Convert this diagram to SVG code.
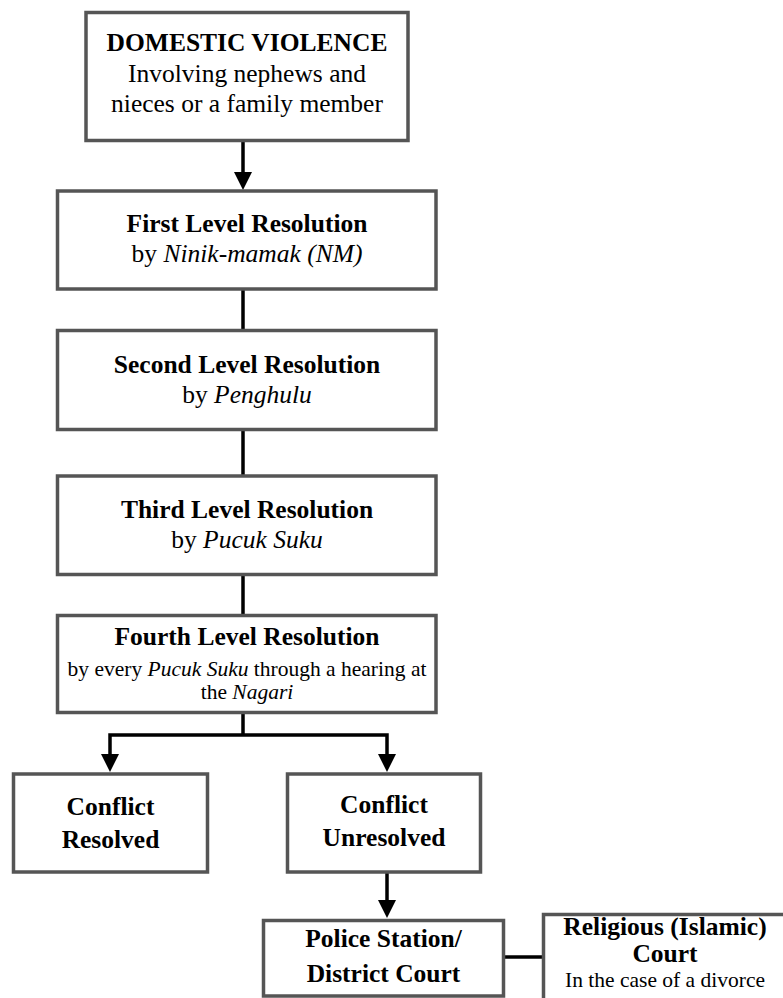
<svg xmlns="http://www.w3.org/2000/svg" width="783" height="998" viewBox="0 0 783 998">
<defs>
<style>
.box{fill:#fff;stroke:#555;stroke-width:3.5}
.c{fill:none;stroke:#000;stroke-width:3.5}
.t{font-family:"Liberation Serif","Times New Roman",serif;text-anchor:middle;font-size:25.5px;fill:#000}
.b{font-weight:bold}
.s{font-size:21.5px}
.i{font-style:italic}
</style>
</defs>
<rect width="783" height="998" fill="#fff"/>
<g id="connectors">
<path class="c" d="M243,141 V173"/>
<polygon points="234,172 252,172 243,190"/>
<path class="c" d="M243,289 V330"/>
<path class="c" d="M243,430 V476"/>
<path class="c" d="M243,575 V615"/>
<path class="c" d="M243,713 V735 M110,735 H387 M110,733.3 V756 M387,733.3 V756"/>
<polygon points="101,754 119,754 110,772"/>
<polygon points="378,754 396,754 387,772"/>
<path class="c" d="M387,873 V901"/>
<polygon points="378,900 396,900 387,918"/>
<path class="c" d="M505,957 H542"/>
</g>
<g id="node-domestic">
<path class="box" d="M86,12.5 H408 V140.5 H86 Z"/>
<text class="t b" x="247" y="51">DOMESTIC VIOLENCE</text>
<text class="t" x="247" y="82">Involving nephews and</text>
<text class="t" x="247" y="112">nieces or a family member</text>
</g>
<g id="node-first">
<path class="box" d="M57.5,191 H436 V289 H57.5 Z"/>
<text class="t b" x="247" y="232">First Level Resolution</text>
<text class="t" x="247" y="262">by <tspan class="i">Ninik-mamak (NM)</tspan></text>
</g>
<g id="node-second">
<path class="box" d="M57.5,330.5 H436 V429.5 H57.5 Z"/>
<text class="t b" x="247" y="373">Second Level Resolution</text>
<text class="t" x="247" y="403">by <tspan class="i">Penghulu</tspan></text>
</g>
<g id="node-third">
<path class="box" d="M57.5,476 H436 V574.5 H57.5 Z"/>
<text class="t b" x="247" y="518">Third Level Resolution</text>
<text class="t" x="247" y="548">by <tspan class="i">Pucuk Suku</tspan></text>
</g>
<g id="node-fourth">
<path class="box" d="M57.5,615.5 H436 V712.5 H57.5 Z"/>
<text class="t b" x="247" y="645">Fourth Level Resolution</text>
<text class="t s" x="247" y="676">by every <tspan class="i">Pucuk Suku</tspan> through a hearing at</text>
<text class="t s" x="247" y="699">the <tspan class="i">Nagari</tspan></text>
</g>
<g id="node-resolved">
<path class="box" d="M13.5,774 H207.5 V872 H13.5 Z"/>
<text class="t b" x="110.5" y="815">Conflict</text>
<text class="t b" x="110.5" y="848">Resolved</text>
</g>
<g id="node-unresolved">
<path class="box" d="M287.5,774 H480.5 V872 H287.5 Z"/>
<text class="t b" x="384" y="813">Conflict</text>
<text class="t b" x="384" y="846">Unresolved</text>
</g>
<g id="node-police">
<path class="box" d="M263.5,920.5 H503.5 V996 H263.5 Z"/>
<text class="t b" x="383.5" y="947">Police Station/</text>
<text class="t b" x="383.5" y="982">District Court</text>
</g>
<g id="node-religious">
<path class="box" d="M543.5,914.5 H789.5 V1014.5 H543.5 Z"/>
<text class="t b" x="665" y="935">Religious (Islamic)</text>
<text class="t b" x="665" y="962">Court</text>
<text class="t s" x="665" y="987">In the case of a divorce</text>
</g>
</svg>
